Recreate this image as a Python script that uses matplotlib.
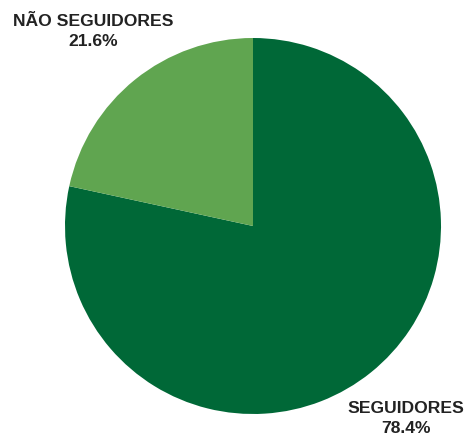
import matplotlib.pyplot as plt

# survey split between followers and non-followers
labels = ['SEGUIDORES', 'NÃO SEGUIDORES']
shares = [78.4, 21.6]
colors = ['#006837', '#60a550']

fig = plt.figure(figsize=(4.66, 4.37), dpi=100)
W, H = 466, 437
cx, cy, r = 253, 437 - 226, 188
ax = fig.add_axes([(cx - r) / W, (cy - r) / H, 2 * r / W, 2 * r / H])

ax.pie(shares, colors=colors, startangle=90, counterclock=False,
       radius=1.0, wedgeprops={'linewidth': 0})
ax.set_xlim(-1, 1)
ax.set_ylim(-1, 1)
ax.set_aspect('equal')
ax.axis('off')

# labels outside the pie
label_pos = [(0.812, -1.022), (-0.852, 1.033)]
for name, val, (x, y) in zip(labels, shares, label_pos):
    ax.text(x, y, '{}\n{:.1f}%'.format(name, val), ha='center', va='center',
            fontsize=12.6, fontweight='bold', family='Liberation Sans',
            color='#222222', linespacing=1.4, clip_on=False)

fig.savefig('out.png', dpi=100)
